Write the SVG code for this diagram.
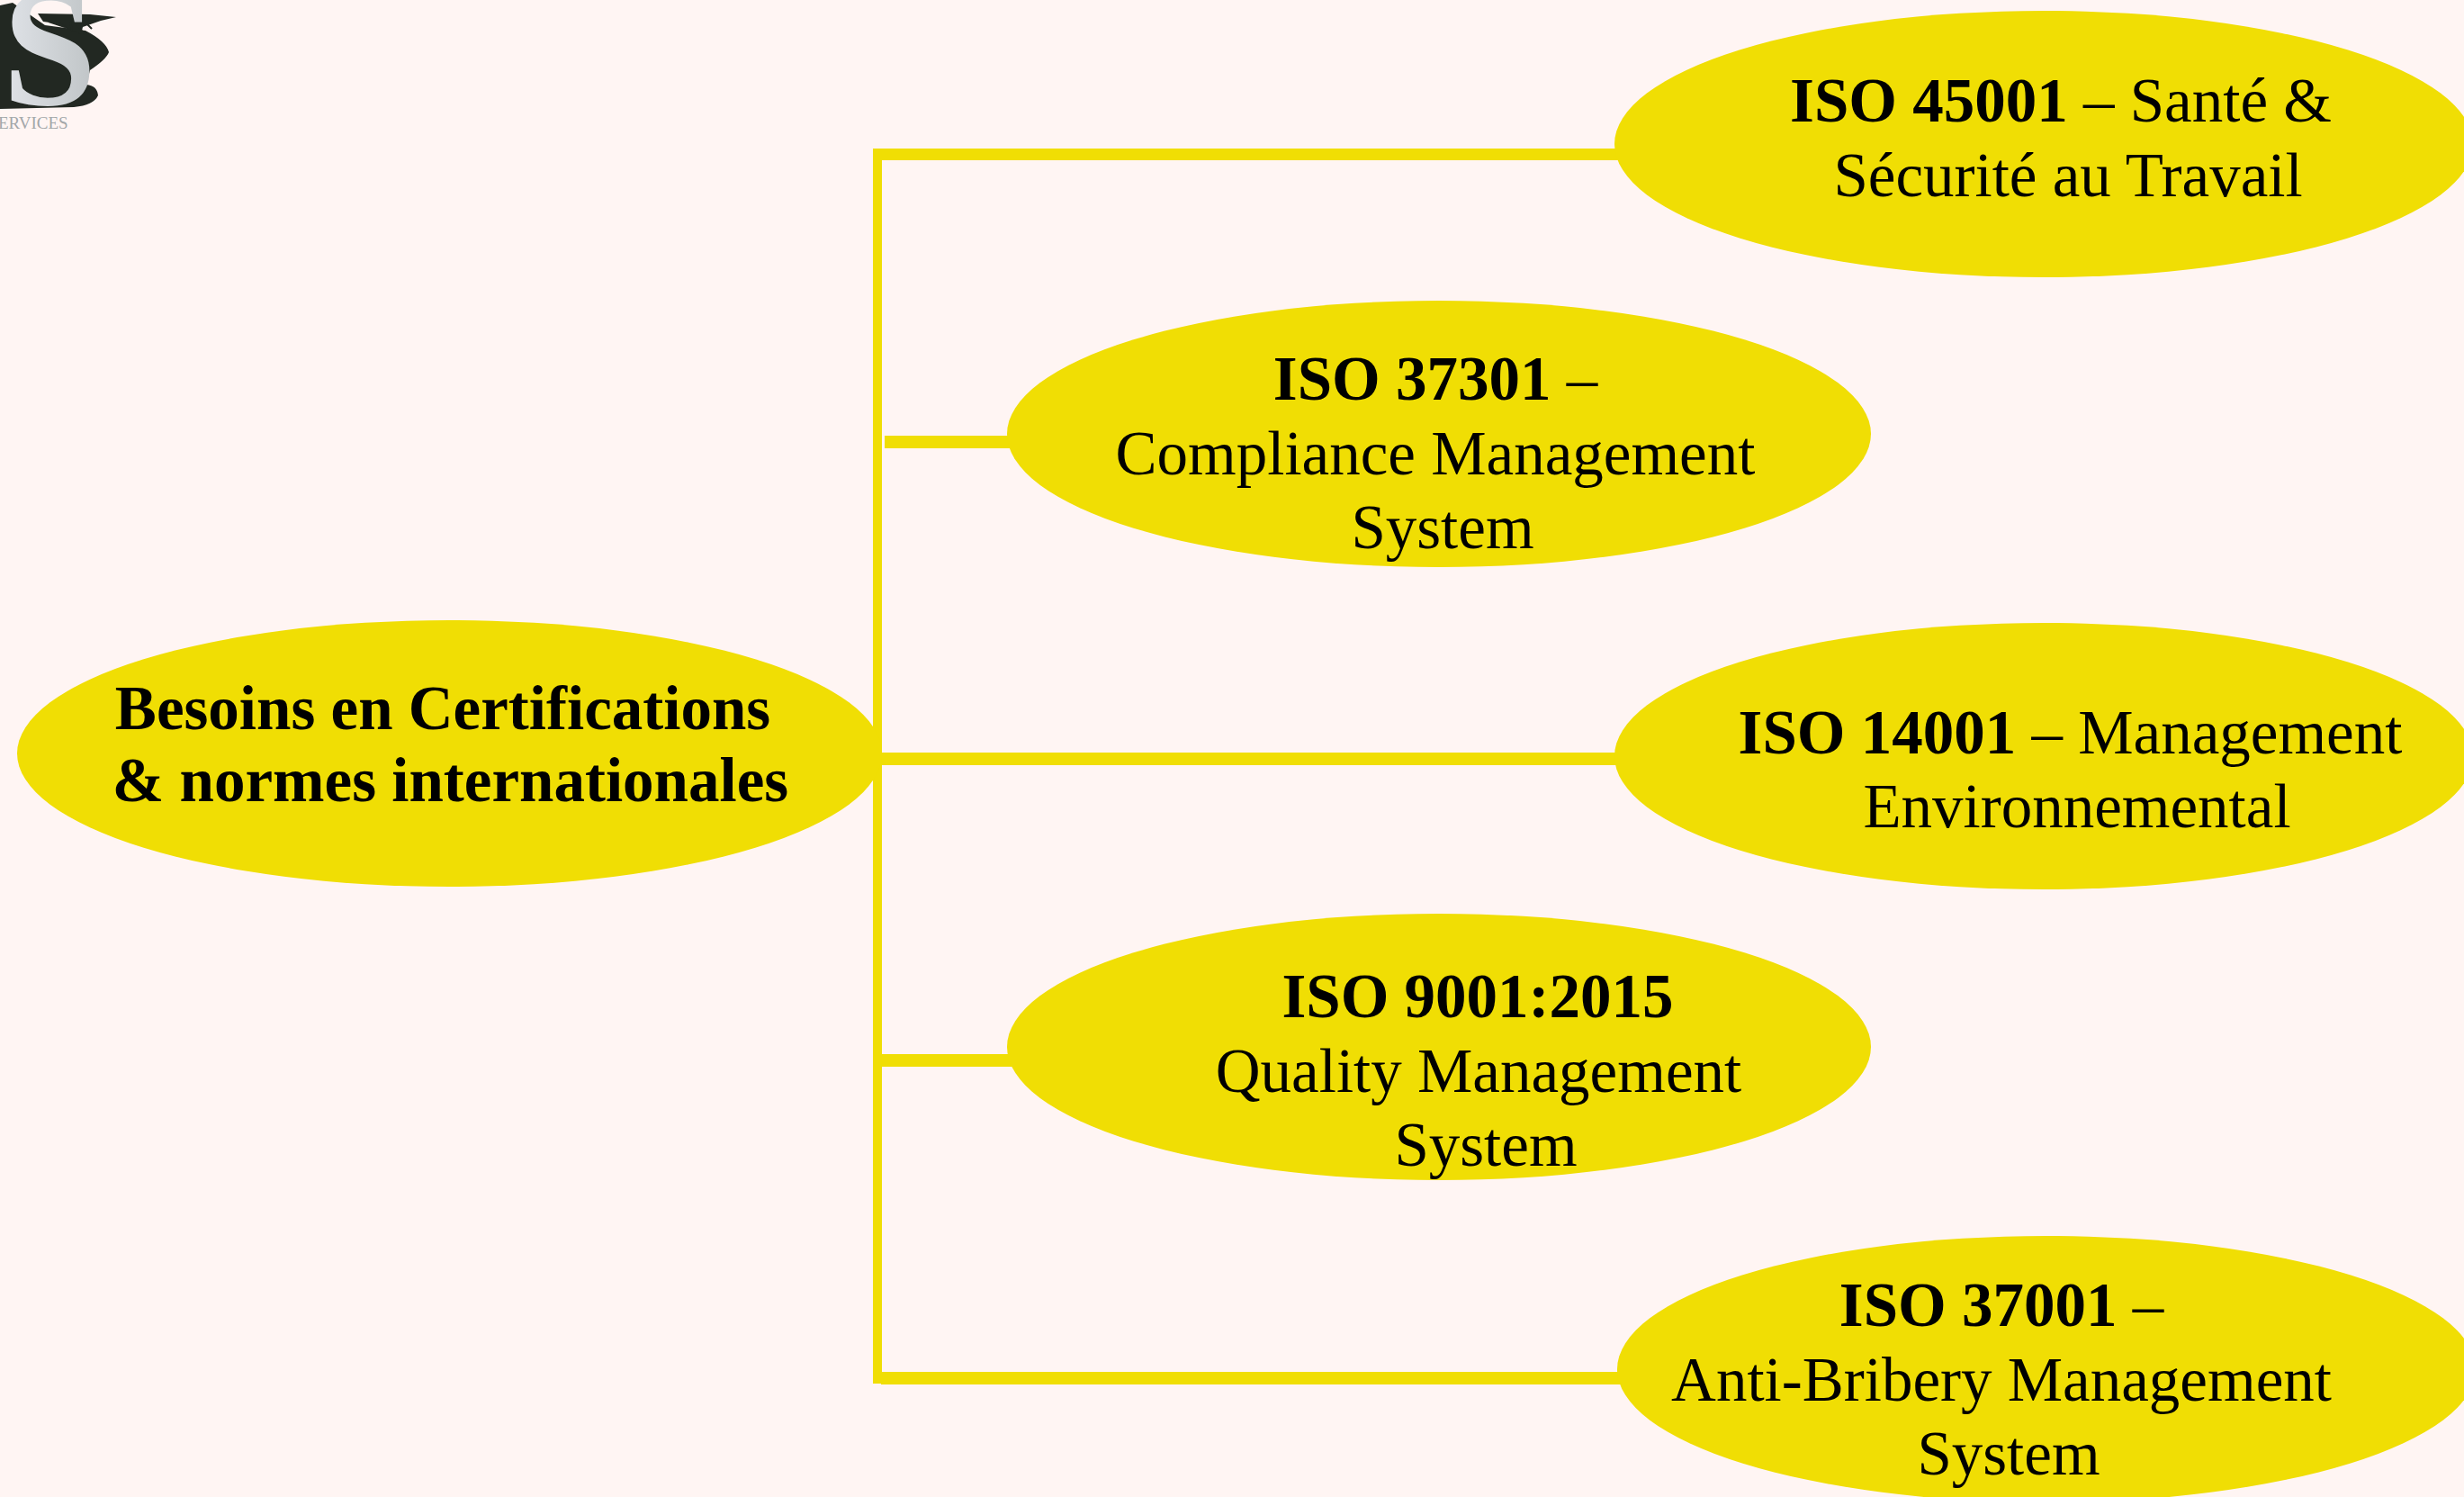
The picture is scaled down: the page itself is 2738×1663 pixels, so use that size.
<svg xmlns="http://www.w3.org/2000/svg" width="2738" height="1663" viewBox="0 0 2738 1663">
<style>
.n{fill:#f0de04}
.c{fill:#f0de04}
text{font-family:"Liberation Serif","Times New Roman",serif;fill:#000;font-size:69px;text-anchor:middle}
.b{font-weight:bold}
.logo-s{font-size:188px;fill:url(#sg);font-weight:bold}
.logo-t{font-size:19px;fill:#a3a7a9;text-anchor:start}
.rig{fill:none;stroke:#222822;stroke-width:2}
</style>
<defs><linearGradient id="sg" x1="0" y1="0" x2="1" y2="0"><stop offset="0" stop-color="#e0e3e8"/><stop offset="1" stop-color="#bfc4c6"/></linearGradient></defs>
<rect width="2738" height="1663" fill="#fff5f3"/>
<g id="logo">
<path d="M0 6 L14 3 L50 28 L95 34 Q118 46 121 58 Q118 66 100 78 L96 94 Q108 95 109 106 Q104 117 82 119 L0 121 Z" fill="#222822"/>
<path d="M42 15 L100 16 L129 19 L112 23 L92 30 L90 38 L62 26 L48 24 Z" fill="#222822"/>
<path class="rig" d="M54 24 L72 30 M66 26 L76 32 M78 24 L80 34 M86 28 L94 38 M94 24 L102 32"/>
<text class="logo-s" x="55" y="116">S</text>
<text class="logo-t" x="-2" y="143">ERVICES</text>
</g>
<g id="connectors">
<rect class="c" x="970" y="165" width="10" height="1372"/>
<rect class="c" x="970" y="165" width="830" height="13"/>
<rect class="c" x="983" y="484" width="140" height="14"/>
<rect class="c" x="975" y="836" width="825" height="14"/>
<rect class="c" x="975" y="1171" width="150" height="14"/>
<rect class="c" x="979" y="1524" width="826" height="14"/>
</g>
<g id="node-root"><ellipse class="n" cx="499.500" cy="837" rx="480.500" ry="148"/>
<text class="b" x="492" y="809.500">Besoins en Certifications</text><text class="b" x="500.500" y="889.500">&amp; normes internationales</text></g>
<g id="node-iso45001"><ellipse class="n" cx="2271" cy="160" rx="477" ry="148"/>
<text x="2290" y="134.500"><tspan class="b">ISO 45001</tspan> – Santé &amp;</text><text x="2298" y="217.500">Sécurité au Travail</text></g>
<g id="node-iso37301"><ellipse class="n" cx="1599" cy="482" rx="480" ry="148"/>
<text x="1595" y="444"><tspan class="b">ISO 37301</tspan> –</text><text x="1595" y="527">Compliance Management</text><text x="1603" y="609">System</text></g>
<g id="node-iso14001"><ellipse class="n" cx="2271" cy="840" rx="477" ry="148"/>
<text x="2300.500" y="836.500"><tspan class="b">ISO 14001</tspan> – Management</text><text x="2308" y="918.500">Environnemental</text></g>
<g id="node-iso9001"><ellipse class="n" cx="1599" cy="1163" rx="480" ry="148"/>
<text class="b" x="1642" y="1130">ISO 9001:2015</text><text x="1643" y="1213">Quality Management</text><text x="1651" y="1295">System</text></g>
<g id="node-iso37001"><ellipse class="n" cx="2274" cy="1521" rx="477" ry="148"/>
<text x="2224" y="1473"><tspan class="b">ISO 37001</tspan> –</text><text x="2224" y="1556">Anti-Bribery Management</text><text x="2232" y="1638">System</text></g>
</svg>
